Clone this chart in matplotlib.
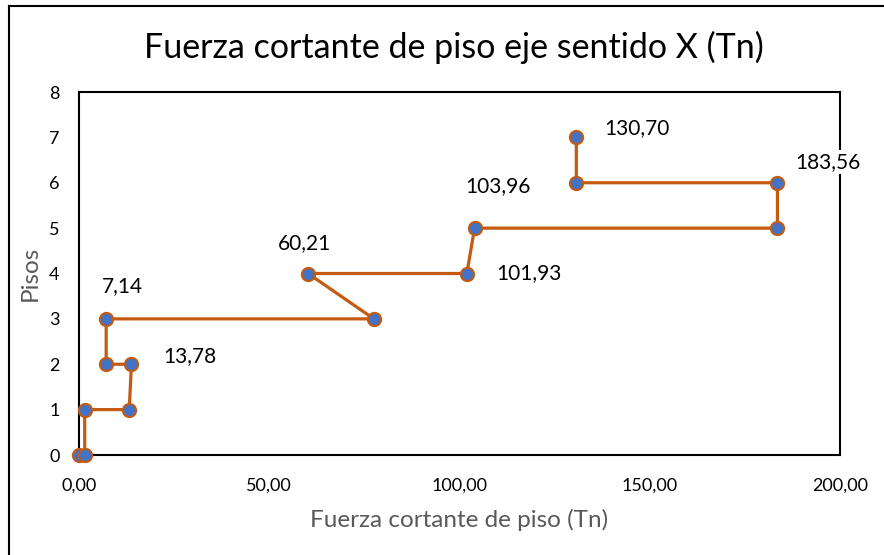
import matplotlib
matplotlib.use("Agg")
import matplotlib.pyplot as plt
from matplotlib.lines import Line2D

plt.rcParams['font.family'] = ['Lato', 'DejaVu Sans']

fuerza = [0.0, 1.5, 1.5, 13.2, 13.78, 7.14, 7.14, 77.5, 60.21, 101.93, 103.96, 183.56, 183.56, 130.70, 130.70]
pisos = [0, 0, 1, 1, 2, 2, 3, 3, 4, 4, 5, 5, 6, 6, 7]

labels = ["130,70", "183,56", "103,96", "60,21", "101,93", "7,14", "13,78"]
label_x = [130.70, 183.56, 103.96, 60.21, 101.93, 7.14, 13.78]
label_y = [7, 6, 5, 4, 4, 3, 2]
label_off = [(28, 9), (18, 21), (-9, 42), (-30, 30), (29, 0), (-4, 33), (32, 8)]

xticks = [0, 50, 100, 150, 200]
xticklabels = ["0,00", "50,00", "100,00", "150,00", "200,00"]
yticks = [0, 1, 2, 3, 4, 5, 6, 7, 8]

fig = plt.figure(figsize=(8.84, 5.55), dpi=100)
ax = fig.add_axes([79/884, 100/555, (840-79)/884, (455-92)/555])

ax.plot(fuerza, pisos, color='#C55A11', lw=2.3, marker='o', markersize=9.5,
        markerfacecolor='#4472C4', markeredgecolor='#C55A11', markeredgewidth=1.5,
        zorder=3, clip_on=False)

for t, x, y, off in zip(labels, label_x, label_y, label_off):
    ax.annotate(t, (x, y), xytext=off, textcoords='offset pixels', fontsize=15,
                ha='left', va='center', color='black', annotation_clip=False,
                bbox=dict(boxstyle='square,pad=0.1', fc='white', ec='none'), zorder=5)

ax.set_xlim(0, 200)
ax.set_ylim(0, 8)
ax.set_xticks(xticks)
ax.set_xticklabels(xticklabels)
ax.set_yticks(yticks)
ax.tick_params(axis='x', length=0, labelsize=13, pad=16)
ax.tick_params(axis='y', length=0, labelsize=13, pad=14)
for s in ax.spines.values():
    s.set_color('black')
    s.set_linewidth(1.5)

ax.set_xlabel("Fuerza cortante de piso (Tn)", fontsize=17.5, color='#595959', labelpad=11)
ax.set_ylabel("Pisos", fontsize=17.5, color='#595959', labelpad=6)
fig.text(454/884, 1 - 47/555, "Fuerza cortante de piso eje sentido X (Tn)", fontsize=24.5,
         ha='center', va='center', color='black')

fig.add_artist(Line2D([9/884, 9/884], [0, 1 - 6/555], transform=fig.transFigure,
                      color='black', lw=1.5))
fig.add_artist(Line2D([9/884, 1], [1 - 6/555, 1 - 6/555], transform=fig.transFigure,
                      color='black', lw=1.5))

fig.savefig("out.png", dpi=100)
